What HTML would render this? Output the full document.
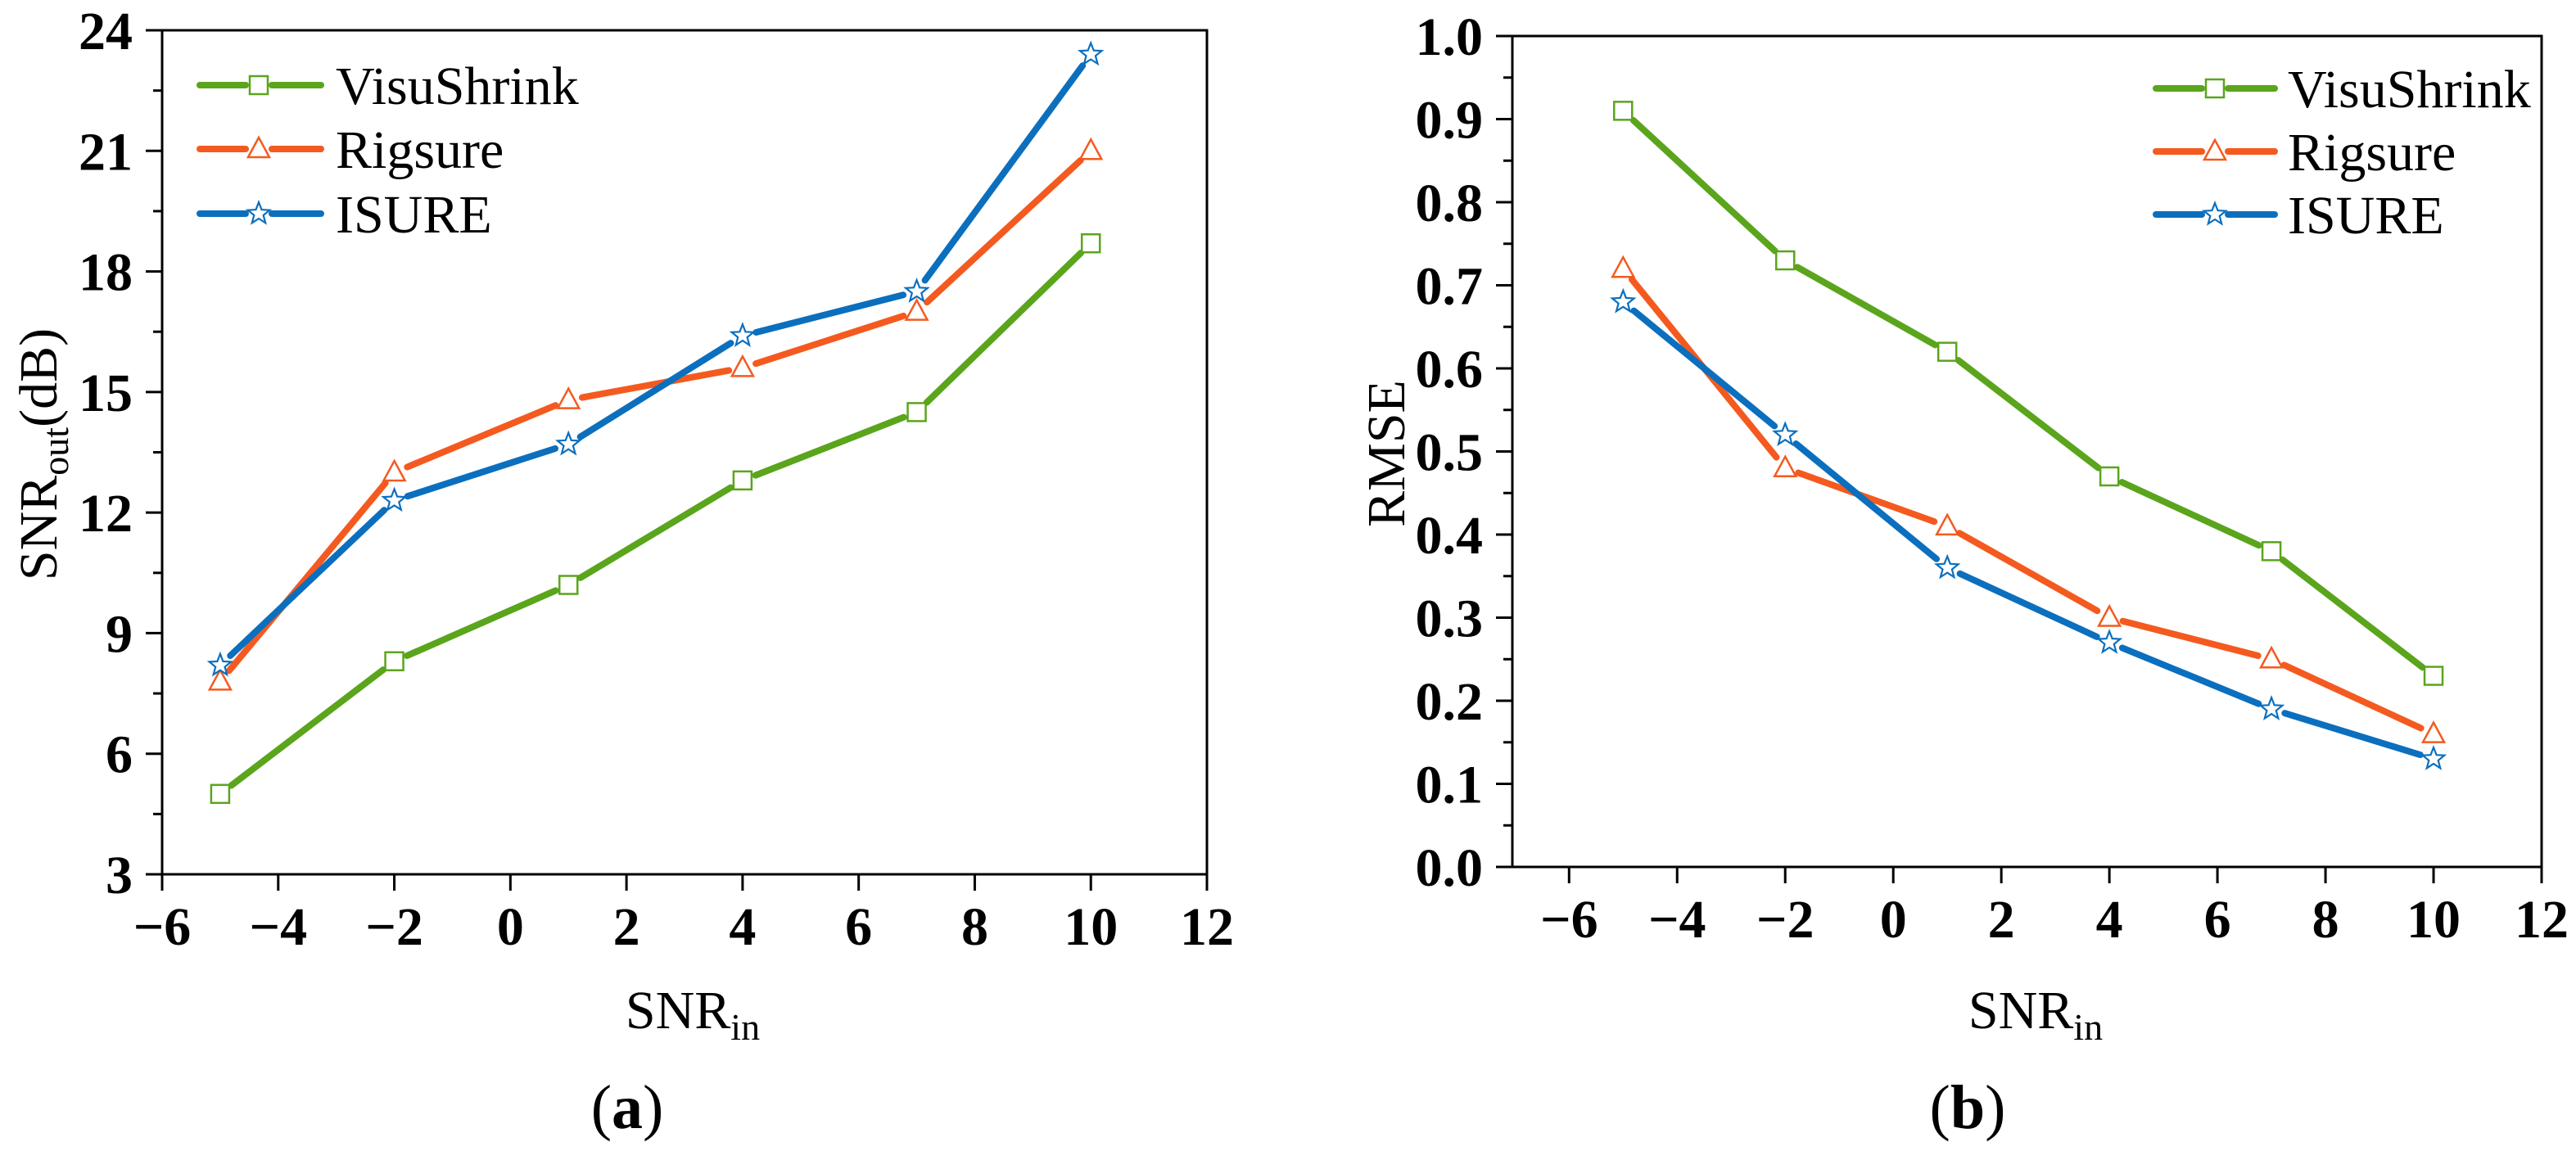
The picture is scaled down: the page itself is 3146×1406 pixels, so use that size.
<!DOCTYPE html>
<html><head><meta charset="utf-8"><style>
html,body{margin:0;padding:0;background:#fff;}
svg{display:block;}
svg text{font-family:"Liberation Serif","Times New Roman",serif !important;}
</style></head><body>
<svg id="fig" width="3146" height="1406" viewBox="0 0 3146 1406"></svg>
<script>
const xValues = [-5, -2, 1, 4, 7, 10];
const seriesNames = ["VisuShrink", "Rigsure", "ISURE"];
const snrVisu = [5.0, 8.3, 10.2, 12.8, 14.5, 18.7];
const snrRig = [7.8, 13.0, 14.8, 15.6, 17.0, 21.0];
const snrIsure = [8.2, 12.3, 13.7, 16.4, 17.5, 23.4];
const rmseVisu = [0.91, 0.73, 0.62, 0.47, 0.38, 0.23];
const rmseRig = [0.72, 0.48, 0.41, 0.30, 0.25, 0.16];
const rmseIsure = [0.68, 0.52, 0.36, 0.27, 0.19, 0.13];
const xTicksA = [-6, -4, -2, 0, 2, 4, 6, 8, 10, 12];
const yTicksA = [3, 6, 9, 12, 15, 18, 21, 24];
const xTicksB = [-6, -4, -2, 0, 2, 4, 6, 8, 10, 12];
const yTicksB = [0, 0.1, 0.2, 0.3, 0.4, 0.5, 0.6, 0.7, 0.8, 0.9, 1.0];

const NS = "http://www.w3.org/2000/svg";
const svg = document.getElementById("fig");
const colors = ["#5aa51c", "#f45a1f", "#0b6fbe"];
const markers = ["square", "triangle", "star"];
const FONT = "Liberation Serif, Times New Roman, serif";

function mk(tag, attrs, parent) {
  const e = document.createElementNS(NS, tag);
  for (const k in attrs) e.setAttribute(k, attrs[k]);
  if (tag === "text") e.setAttribute("font-family", FONT);
  (parent || svg).appendChild(e);
  return e;
}

function drawMarker(g, type, cx, cy, color) {
  let m;
  if (type === "square") {
    m = mk("rect", {x: cx - 11, y: cy - 11, width: 22, height: 22, fill: "#fff", stroke: color, "stroke-width": 2.5}, g);
  } else if (type === "triangle") {
    m = mk("polygon", {points: `${cx},${cy - 14} ${cx - 13},${cy + 10} ${cx + 13},${cy + 10}`, fill: "#fff", stroke: color, "stroke-width": 2.5}, g);
  } else {
    let pts = [];
    for (let i = 0; i < 10; i++) {
      const r = i % 2 === 0 ? 14 : 6;
      const a = -Math.PI / 2 + i * Math.PI / 5;
      pts.push((cx + r * Math.cos(a)).toFixed(1) + "," + (cy + r * Math.sin(a)).toFixed(1));
    }
    m = mk("polygon", {points: pts.join(" "), fill: "#fff", stroke: color, "stroke-width": 2.2}, g);
  }
  return m;
}

function panel(cfg) {
  const {x0, x1, y0, y1, xmin, xmax, ymin, ymax, xTicks, yTicks, yMinorStep, yFmt, series, legend, name} = cfg;
  const g = mk("g", {});
  
  
  const sx = v => x0 + (v - xmin) / (xmax - xmin) * (x1 - x0);
  const sy = v => y1 - (v - ymin) / (ymax - ymin) * (y1 - y0);
  const frame = mk("rect", {x: x0, y: y0, width: x1 - x0, height: y1 - y0, fill: "none", stroke: "#000", "stroke-width": 3}, g);
  
  
  xTicks.forEach(t => {
    const X = sx(t);
    mk("line", {x1: X, x2: X, y1: y1, y2: y1 + 20, stroke: "#000", "stroke-width": 3}, g);
    const lab = mk("text", {x: X, y: y1 + 86, "text-anchor": "middle", "font-size": 66, "font-weight": "bold"}, g);
    lab.textContent = t < 0 ? "\u2212" + Math.abs(t) : String(t);
    
    
  });
  yTicks.forEach(t => {
    const Y = sy(t);
    mk("line", {x1: x0 - 20, x2: x0, y1: Y, y2: Y, stroke: "#000", "stroke-width": 3}, g);
    const lab = mk("text", {x: x0 - 36, y: Y + 23, "text-anchor": "end", "font-size": 66, "font-weight": "bold"}, g);
    lab.textContent = yFmt(t);
    
    
  });
  for (let v = ymin + yMinorStep; v < ymax; v += yMinorStep * 2) {
    const Y = sy(v);
    mk("line", {x1: x0 - 11, x2: x0, y1: Y, y2: Y, stroke: "#000", "stroke-width": 3}, g);
  }
  series.forEach((vals, si) => {
    const sg = mk("g", {}, g);
    
    
    const pts = xValues.map((xv, i) => [sx(xv), sy(vals[i])]);
    for (let i = 0; i < pts.length - 1; i++) {
      const [ax, ay] = pts[i], [bx, by] = pts[i + 1];
      const d = Math.hypot(bx - ax, by - ay), gap = 17;
      const ux = (bx - ax) / d, uy = (by - ay) / d;
      const seg = mk("line", {x1: ax + ux * gap, y1: ay + uy * gap, x2: bx - ux * gap, y2: by - uy * gap, stroke: colors[si], "stroke-width": 8, "stroke-linecap": "round"}, sg);
      
      
    }
    pts.forEach(([px, py]) => {
      const m = drawMarker(sg, markers[si], px, py, colors[si]);
      
      
    });
  });
  const lg = mk("g", {}, g);
  
  
  seriesNames.forEach((nm, si) => {
    const ry = legend.ys[si];
    const eg = mk("g", {}, lg);
    
    
    mk("line", {x1: legend.lx0, x2: legend.mx - 16, y1: ry, y2: ry, stroke: colors[si], "stroke-width": 8, "stroke-linecap": "round"}, eg);
    mk("line", {x1: legend.mx + 16, x2: legend.lx1, y1: ry, y2: ry, stroke: colors[si], "stroke-width": 8, "stroke-linecap": "round"}, eg);
    drawMarker(eg, markers[si], legend.mx, ry, colors[si]);
    const t = mk("text", {x: legend.tx, y: ry + 23, "font-size": 66}, eg);
    t.textContent = nm;
  });
}

panel({name: "chart-a", x0: 198, x1: 1474, y0: 37, y1: 1068, xmin: -6, xmax: 12, ymin: 3, ymax: 24,
  xTicks: xTicksA, yTicks: yTicksA, yMinorStep: 1.5, yFmt: v => String(v),
  series: [snrVisu, snrRig, snrIsure],
  legend: {lx0: 244, lx1: 392, mx: 316, tx: 410, ys: [104, 182, 261]}});

panel({name: "chart-b", x0: 1847, x1: 3104, y0: 44, y1: 1059, xmin: -7.05, xmax: 12, ymin: 0, ymax: 1,
  xTicks: xTicksB, yTicks: yTicksB, yMinorStep: 0.05, yFmt: v => v.toFixed(1),
  series: [rmseVisu, rmseRig, rmseIsure],
  legend: {lx0: 2633, lx1: 2778, mx: 2705, tx: 2794, ys: [108, 185, 262]}});

function txt(html, attrs, name) {
  const t = mk("text", attrs);
  t.innerHTML = html;
  
  
  return t;
}
txt('SNR<tspan font-size="46" dy="14">in</tspan>', {x: 846, y: 1256, "text-anchor": "middle", "font-size": 66}, "x-axis-title-a");
txt('SNR<tspan font-size="46" dy="14">in</tspan>', {x: 2486, y: 1256, "text-anchor": "middle", "font-size": 66}, "x-axis-title-b");
txt('SNR<tspan font-size="46" dy="14">out</tspan><tspan dy="-14">(dB)</tspan>', {x: 0, y: 0, "text-anchor": "middle", "font-size": 66, transform: "translate(69,555) rotate(-90)"}, "y-axis-title-a");
txt('RMSE', {x: 0, y: 0, "text-anchor": "middle", "font-size": 66, transform: "translate(1715,554) rotate(-90)"}, "y-axis-title-b");
txt('(<tspan font-weight="bold">a</tspan>)', {x: 766, y: 1378, "text-anchor": "middle", "font-size": 76}, "panel-label-a");
txt('(<tspan font-weight="bold">b</tspan>)', {x: 2403, y: 1378, "text-anchor": "middle", "font-size": 76}, "panel-label-b");
</script>
</body></html>
